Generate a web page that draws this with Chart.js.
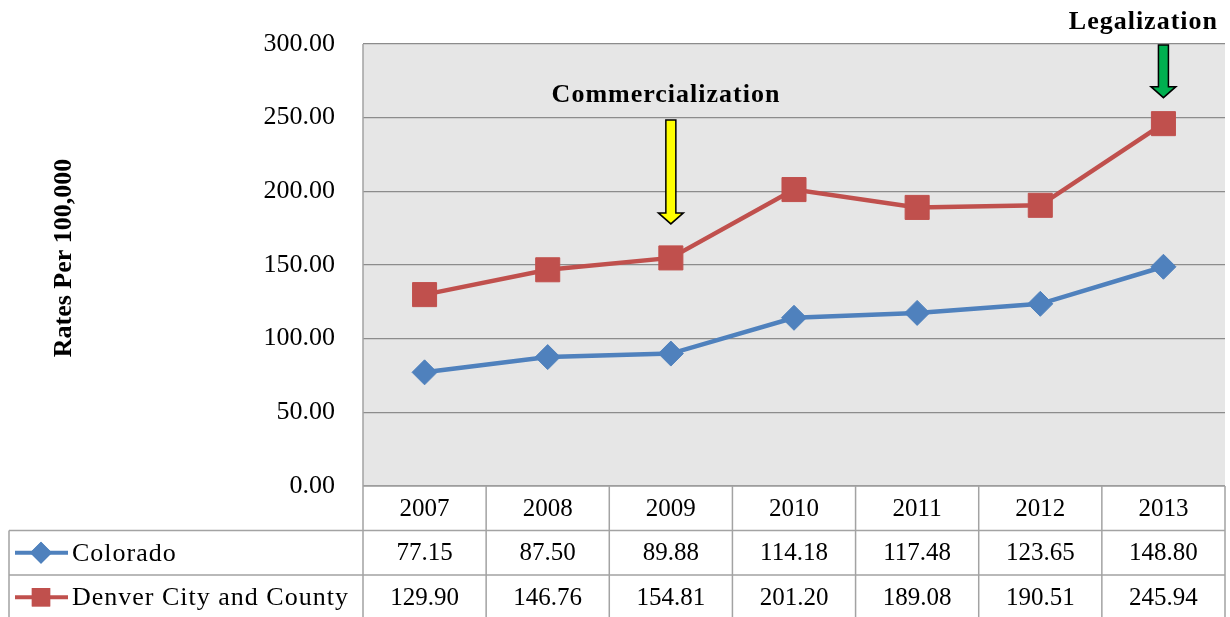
<!DOCTYPE html>
<html>
<head>
<meta charset="utf-8">
<script src="https://cdn.jsdelivr.net/npm/chart.js@4.4.1/dist/chart.umd.min.js"></script>
<style>
  html, body { margin: 0; padding: 0; background: #fff; }
  #wrap { width: 1230px; height: 617px; position: relative; }
</style>
</head>
<body>
<div id="wrap"><canvas id="chart-tasas"></canvas></div>
<script>
const years = ['2007', '2008', '2009', '2010', '2011', '2012', '2013'];
const seriesNames = ['Colorado', 'Denver City and County'];
const coloradoRates = [77.15, 87.50, 89.88, 114.18, 117.48, 123.65, 148.80];
const denverRates = [129.90, 146.76, 154.81, 201.20, 189.08, 190.51, 245.94];
const yTickRange = [0, 300, 50];
const eventYears = ['2009', '2013'];
const eventLabels = ['Commercialization', 'Legalization'];
const yTitle = 'Rates Per 100,000';

const SERIF = '"Liberation Serif", "Times New Roman", serif';
const BLUE = '#4F81BD';
const RED = '#C0504D';
const GRID = '#a3a3a3';

const seriesStyles = [
  { color: BLUE, pointStyle: 'rectRot', radius: 12.5, legendRadius: 11 },
  { color: RED, pointStyle: 'rect', radius: 17, legendRadius: 13 }
];

// arrow looks: fill colour, shaft top, tip offset above the Denver point
const arrowStyles = [
  { fill: '#FFFF00', shaftTop: 120, tipGap: 34, textX: 666, textY: 102, align: 'center' },
  { fill: '#00B050', shaftTop: 45, tipGap: 26, textX: 1218, textY: 29, align: 'right' }
];

const tablePlugin = {
  id: 'dataTable',
  beforeDraw(chart) {
    const { ctx, chartArea: a } = chart;
    ctx.save();
    ctx.fillStyle = '#E6E6E6';
    ctx.fillRect(a.left, a.top, a.right - a.left, a.bottom - a.top);
    ctx.restore();
  },
  afterDraw(chart) {
    const { ctx, chartArea: a } = chart;
    const x = chart.scales.x;
    const colW = (a.right - a.left) / years.length;
    const rowH = 44.5;
    const rows = [a.bottom, a.bottom + rowH, a.bottom + rowH * 2];
    const bottom = chart.height + 2;
    const legendLeft = 9;

    ctx.save();
    ctx.strokeStyle = GRID;
    ctx.lineWidth = 1.5;
    ctx.beginPath();
    // plot frame left
    ctx.moveTo(a.left, a.top);
    ctx.lineTo(a.left, a.bottom);
    // horizontal table lines
    ctx.moveTo(a.left, rows[0]);
    ctx.lineTo(a.right, rows[0]);
    ctx.moveTo(legendLeft, rows[1]);
    ctx.lineTo(a.right, rows[1]);
    ctx.moveTo(legendLeft, rows[2]);
    ctx.lineTo(a.right, rows[2]);
    // verticals
    for (let i = 0; i <= years.length; i++) {
      const cx = a.left + i * colW;
      ctx.moveTo(cx, rows[0]);
      ctx.lineTo(cx, bottom);
    }
    ctx.moveTo(legendLeft, rows[1]);
    ctx.lineTo(legendLeft, bottom);
    ctx.stroke();

    ctx.fillStyle = '#000';
    ctx.font = '25px ' + SERIF;
    ctx.textAlign = 'center';
    ctx.textBaseline = 'middle';
    const values = [coloradoRates, denverRates];
    years.forEach((yr, i) => {
      const cx = x.getPixelForValue(i);
      ctx.fillText(yr, cx, rows[0] + rowH / 2 + 1);
      values.forEach((arr, s) => {
        ctx.fillText(arr[i].toFixed(2), cx, rows[s + 1] + rowH / 2 + 1);
      });
    });

    // series keys in the first column
    seriesNames.forEach((name, s) => {
      const st = seriesStyles[s];
      const cy = rows[s + 1] + rowH / 2;
      ctx.strokeStyle = st.color;
      ctx.lineWidth = 4;
      ctx.beginPath();
      ctx.moveTo(15, cy);
      ctx.lineTo(68, cy);
      ctx.stroke();
      ctx.fillStyle = st.color;
      Chart.helpers.drawPoint(ctx, {
        pointStyle: st.pointStyle, radius: st.legendRadius, rotation: 0, borderWidth: 0
      }, 41, cy);
      ctx.fill();
      ctx.fillStyle = '#000';
      ctx.textAlign = 'left';
      ctx.font = '26px ' + SERIF;
      ctx.letterSpacing = '1px';
      ctx.fillText(name, 72, cy + 1);
      ctx.letterSpacing = '0px';
    });

    // y axis title
    ctx.save();
    ctx.translate(64, 258);
    ctx.rotate(-Math.PI / 2);
    ctx.font = 'bold 26px ' + SERIF;
    ctx.textAlign = 'center';
    ctx.textBaseline = 'middle';
    ctx.fillStyle = '#000';
    ctx.fillText(yTitle, 0, 0);
    ctx.restore();

    // event arrows
    const yScale = chart.scales.y;
    eventYears.forEach((yr, k) => {
      const st = arrowStyles[k];
      const idx = years.indexOf(yr);
      const cx = x.getPixelForValue(idx);
      const tip = yScale.getPixelForValue(denverRates[idx]) - st.tipGap;
      const headTop = tip - 11;
      ctx.beginPath();
      ctx.moveTo(cx - 5, st.shaftTop);
      ctx.lineTo(cx + 5, st.shaftTop);
      ctx.lineTo(cx + 5, headTop);
      ctx.lineTo(cx + 12.5, headTop);
      ctx.lineTo(cx, tip);
      ctx.lineTo(cx - 12.5, headTop);
      ctx.lineTo(cx - 5, headTop);
      ctx.closePath();
      ctx.fillStyle = st.fill;
      ctx.fill();
      ctx.strokeStyle = '#000';
      ctx.lineWidth = 1.5;
      ctx.lineJoin = 'miter';
      ctx.stroke();

      ctx.fillStyle = '#000';
      ctx.font = 'bold 26px ' + SERIF;
      ctx.letterSpacing = '1px';
      ctx.textAlign = st.align;
      ctx.textBaseline = 'alphabetic';
      ctx.fillText(eventLabels[k], st.textX, st.textY);
      ctx.letterSpacing = '0px';
    });
    ctx.restore();
  }
};

const ctx = document.getElementById('chart-tasas').getContext('2d');
new Chart(ctx, {
  type: 'line',
  data: {
    labels: years,
    datasets: [coloradoRates, denverRates].map((data, i) => ({
      label: seriesNames[i],
      data,
      borderColor: seriesStyles[i].color,
      backgroundColor: seriesStyles[i].color,
      borderWidth: 4.5,
      pointStyle: seriesStyles[i].pointStyle,
      pointRadius: seriesStyles[i].radius,
      pointBorderWidth: 1,
      pointBorderColor: seriesStyles[i].color,
      tension: 0,
      fill: false
    }))
  },
  options: {
    responsive: true,
    maintainAspectRatio: false,
    animation: false,
    layout: { autoPadding: false, padding: { top: 44, right: 5, bottom: 131, left: 0 } },
    plugins: {
      legend: { display: false },
      tooltip: { enabled: false },
      title: { display: false }
    },
    scales: {
      x: {
        display: false,
        offset: true
      },
      y: {
        min: yTickRange[0],
        max: yTickRange[1],
        afterFit(scale) { scale.width = 363; },
        ticks: {
          stepSize: yTickRange[2],
          color: '#000',
          padding: 28,
          font: { family: SERIF, size: 26 },
          callback: v => Number(v).toFixed(2)
        },
        grid: { color: '#8c8c8c', lineWidth: 1.2, drawTicks: false },
        border: { display: false }
      }
    }
  },
  plugins: [tablePlugin]
});
</script>
</body>
</html>
